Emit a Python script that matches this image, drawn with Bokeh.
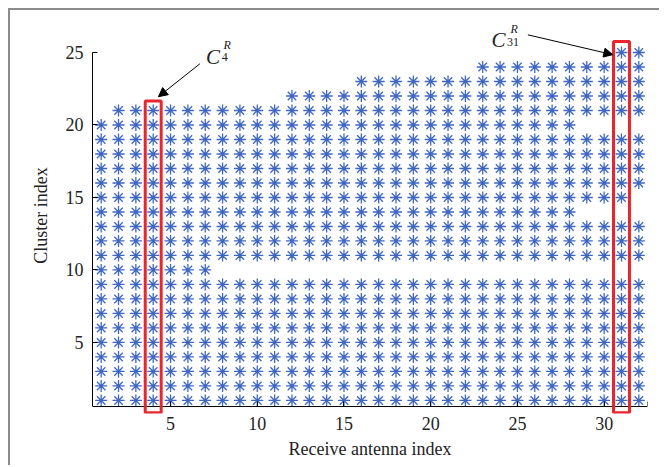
from bokeh.plotting import figure
from bokeh.models import (Range1d, BoxAnnotation, Arrow, NormalHead, Label, FixedTicker,
                          LinearAxis)
from bokeh.embed import file_html
from bokeh.resources import INLINE

# ---- data ----
cluster_index = list(range(1, 26))
# first / last receive-antenna index present in each cluster row (rows are contiguous)
row_first = [1, 1, 1, 1, 1, 1, 1, 1, 1, 1, 1, 1, 1, 1, 1, 1, 1, 1, 1, 1, 2, 12, 16, 23, 31]
row_last = [32, 32, 32, 32, 32, 32, 32, 32, 32, 7, 32, 32, 32, 28, 31, 32, 32, 32, 32, 28, 32, 32, 32, 32, 32]
x_ticks = [5, 10, 15, 20, 25, 30]
y_ticks = [5, 10, 15, 20, 25]
highlight_antennas = [4, 31]
highlight_tops = [21.65, 25.75]
highlight_names = ["4", "31"]

xs, ys = [], []
for c, a0, a1 in zip(cluster_index, row_first, row_last):
    for a in range(a0, a1 + 1):
        xs.append(a)
        ys.append(c)

FONT = "Liberation Serif"
BLUE = "#3f67c2"
RED = "#e8262b"
INK = "#222222"
X_LO, X_HI = 0.5, 32.5
Y_AXIS_LO = 0.6

p = figure(width=651, height=457, output_backend="svg", toolbar_location=None,
           x_range=Range1d(X_LO, X_HI), y_range=Range1d(0.1, 27.414),
           min_border_left=82, min_border_right=14, min_border_top=7, min_border_bottom=54)
p.styles = {"margin-left": "8px", "margin-top": "8px",
            "border-left": "2px solid #8c8c8c", "border-top": "2px solid #8c8c8c"}
p.outline_line_color = None
p.xgrid.grid_line_color = None
p.ygrid.grid_line_color = None

p.scatter(xs, ys, marker="asterisk", size=12, line_color=BLUE, line_width=1.3)

# left axis
ya = p.yaxis[0]
ya.ticker = FixedTicker(ticks=y_ticks)
ya.bounds = (Y_AXIS_LO, 25)
ya.major_tick_in = 5
ya.major_tick_out = 0
ya.minor_tick_line_color = None
ya.axis_line_color = "black"
ya.major_tick_line_color = "black"
ya.major_label_standoff = 9
ya.axis_label = "Cluster index"
ya.axis_label_standoff = 12

# bottom axis: labels only (line and ticks drawn by the fixed-location axis below)
xa = p.xaxis[0]
xa.ticker = FixedTicker(ticks=x_ticks)
xa.axis_line_color = None
xa.major_tick_line_color = None
xa.minor_tick_line_color = None
xa.major_tick_in = 0
xa.major_tick_out = 0
xa.major_label_standoff = 3
xa.axis_label = "Receive antenna index"
xa.axis_label_standoff = 6

for ax in (xa, ya):
    ax.major_label_text_font = FONT
    ax.major_label_text_font_size = "18px"
    ax.major_label_text_color = INK
    ax.axis_label_text_font = FONT
    ax.axis_label_text_font_size = "18px"
    ax.axis_label_text_font_style = "normal"
    ax.axis_label_text_color = INK

# x axis line with inward ticks at the bottom of the data area (no labels of its own)
xline = LinearAxis(fixed_location=Y_AXIS_LO, ticker=FixedTicker(ticks=x_ticks + [X_HI]),
                   major_tick_in=5, major_tick_out=0, minor_tick_line_color=None,
                   major_label_text_color=None, major_label_text_font_size="1px",
                   major_label_standoff=0,
                   axis_line_color="black", major_tick_line_color="black")
p.add_layout(xline, "below")

for a, top in zip(highlight_antennas, highlight_tops):
    p.add_layout(BoxAnnotation(left=a - 0.46, right=a + 0.46, bottom=0.15, top=top,
                               fill_alpha=0, line_color=RED, line_alpha=1.0, line_width=3))

# annotation arrows
p.add_layout(Arrow(x_start=6.69, y_start=24.22, x_end=4.3, y_end=21.95, line_width=1,
                   line_color="black",
                   end=NormalHead(size=9, fill_color="black", line_color="black")))
p.add_layout(Arrow(x_start=25.6, y_start=26.22, x_end=30.5, y_end=24.85, line_width=1,
                   line_color="black",
                   end=NormalHead(size=9, fill_color="black", line_color="black")))

# C^R_4 label
p.add_layout(Label(x=7.05, y=24.72, text="C", text_font=FONT, text_font_style="italic",
                   text_font_size="21px", text_baseline="alphabetic", text_color=INK))
p.add_layout(Label(x=8.05, y=25.5, text="R", text_font=FONT, text_font_style="italic",
                   text_font_size="12px", text_baseline="alphabetic", text_color=INK))
p.add_layout(Label(x=7.95, y=24.68, text=highlight_names[0], text_font=FONT,
                   text_font_size="12px", text_baseline="alphabetic", text_color=INK))
# C^R_31 label
p.add_layout(Label(x=23.5, y=25.83, text="C", text_font=FONT, text_font_style="italic",
                   text_font_size="21px", text_baseline="alphabetic", text_color=INK))
p.add_layout(Label(x=24.6, y=26.65, text="R", text_font=FONT, text_font_style="italic",
                   text_font_size="12px", text_baseline="alphabetic", text_color=INK))
p.add_layout(Label(x=24.4, y=25.72, text=highlight_names[1], text_font=FONT,
                   text_font_size="12px", text_baseline="alphabetic", text_color=INK))

open("out.html", "w").write(file_html(p, INLINE))
